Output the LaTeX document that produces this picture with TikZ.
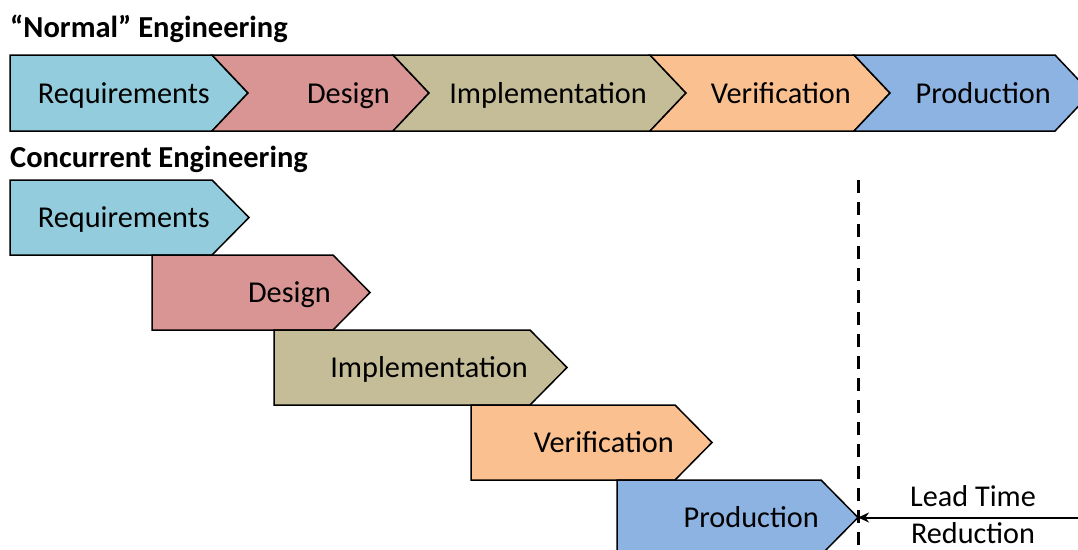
\documentclass[tikz,border=0pt]{standalone}
\usepackage{fontspec}
\setmainfont{Carlito}
\usetikzlibrary{arrows.meta}
\definecolor{creq}{HTML}{93CDDD}
\definecolor{cdes}{HTML}{D99594}
\definecolor{cimp}{HTML}{C4BD97}
\definecolor{cver}{HTML}{FAC090}
\definecolor{cpro}{HTML}{8DB3E2}
\begin{document}
\begin{tikzpicture}[x=1pt,y=-1pt,
  box/.style={draw=black, line width=1.5pt, line join=miter},
  lbl/.style={font=\fontsize{30.3}{32}\selectfont, inner sep=0pt, anchor=base east},
  ttl/.style={font=\bfseries\fontsize{30.5}{32}\selectfont, inner sep=0pt, anchor=base west},
  note/.style={font=\fontsize{30.2}{32}\selectfont, inner sep=0pt, anchor=base}]
\useasboundingbox (0,0) rectangle (1078,549);
\clip (0,0) rectangle (1078,549);

% titles
\node[ttl] (t1) at (10,37) {“Normal” Engineering};
\node[ttl] (t2) at (10,167) {Concurrent Engineering};

% top row
\draw[box,fill=creq] (10,55)--(212,55)--(248,93)--(212,131)--(10,131)--cycle;
\draw[box,fill=cdes] (212,55)--(393,55)--(429,93)--(393,131)--(212,131)--(248,93)--cycle;
\draw[box,fill=cimp] (393,55)--(650,55)--(686,93)--(650,131)--(393,131)--(429,93)--cycle;
\draw[box,fill=cver] (650,55)--(854,55)--(890,93)--(854,131)--(650,131)--(686,93)--cycle;
\draw[box,fill=cpro] (854,55)--(1055,55)--(1091,93)--(1055,131)--(854,131)--(890,93)--cycle;
\node[lbl] (n1) at (210,103) {Requirements};
\node[lbl] (n2) at (390,103) {Design};
\node[lbl] (n3) at (647,103) {Implementation};
\node[lbl] (n4) at (851,103) {Verification};
\node[lbl] (n5) at (1051,103) {Production};

% concurrent row
\draw[box,fill=creq] (10,180)--(212,180)--(249,217.5)--(212,255)--(10,255)--cycle;
\draw[box,fill=cdes] (152,255)--(333,255)--(370,292.5)--(333,330)--(152,330)--cycle;
\draw[box,fill=cimp] (274,330)--(530,330)--(567,367.5)--(530,405)--(274,405)--cycle;
\draw[box,fill=cver] (471,405)--(675,405)--(712,442.5)--(675,480)--(471,480)--cycle;
\draw[box,fill=cpro] (617,480)--(821,480)--(858,517.5)--(821,555)--(617,555)--cycle;
\coordinate (ptip) at (858,517.5);
\node[lbl] (c1) at (210,227.5) {Requirements};
\node[lbl] (c2) at (331,302.5) {Design};
\node[lbl] (c3) at (528,377.5) {Implementation};
\node[lbl] (c4) at (674,452.5) {Verification};
\node[lbl] (c5) at (819,527.5) {Production};

% dashed line and arrow
\coordinate (dtop) at (858,180);
\coordinate (dbot) at (858,560);
\draw[line width=3pt, dash pattern=on 13pt off 9pt] (dtop) -- (dbot);
\coordinate (astart) at (1085,517.5);
\draw[line width=2pt, -{Stealth[length=11pt,width=10pt]}] (astart) -- (ptip);
\node[note] (l1) at (973,506) {Lead Time};
\node[note] (l2) at (973,543) {Reduction};
\end{tikzpicture}
\end{document}
